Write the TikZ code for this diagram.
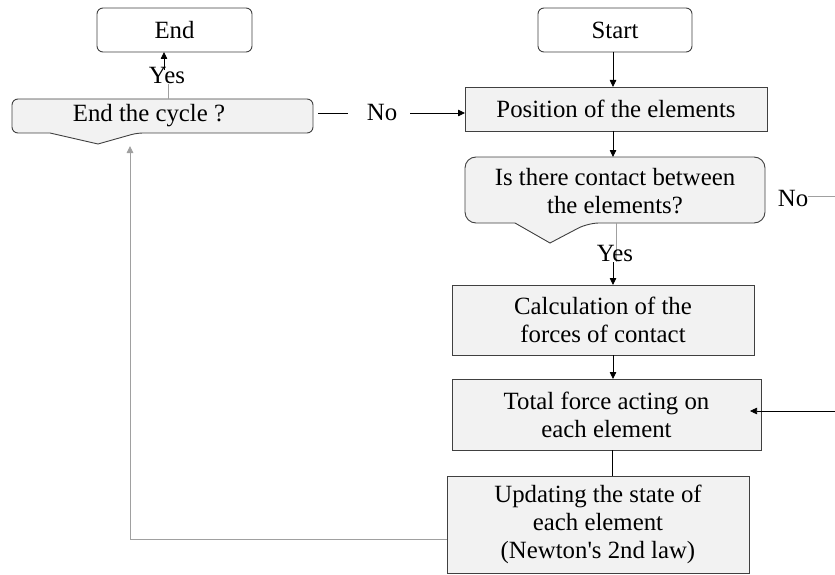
\documentclass[tikz,border=0pt]{standalone}
\usepackage{fontspec}
\setmainfont{Liberation Serif}
\usetikzlibrary{arrows.meta}
\definecolor{boxfill}{HTML}{F2F2F2}
\definecolor{boxline}{HTML}{404040}
\definecolor{thin}{HTML}{A0A0A0}
\tikzset{
  txt/.style={font=\fontsize{24.8}{28}\selectfont, align=center, inner sep=0pt},
  term/.style={txt, draw=boxline, line width=0.9pt, rounded corners=6pt, fill=white},
  proc/.style={txt, draw=boxline, line width=0.9pt, fill=boxfill},
  arr/.style={draw=black, line width=0.8pt, -{Triangle[length=7pt,width=6.5pt]}},
  garr/.style={draw=thin, line width=0.9pt, -{Triangle[length=7pt,width=6.5pt]}},
  gline/.style={draw=thin, line width=0.9pt},
  bline/.style={draw=black, line width=0.8pt},
  callout/.style={draw=boxline, line width=0.9pt, fill=boxfill},
  lbl/.style={font=\fontsize{24.8}{28}\selectfont, inner sep=0pt},
}
\begin{document}
\begin{tikzpicture}[x=1pt,y=-1pt]
\useasboundingbox (0,0) rectangle (835,575);

% terminals
\node[term, minimum width=155pt, minimum height=44pt] (end) at (174.5,30) {End};
\node[term, minimum width=154pt, minimum height=44pt] (start) at (615,30) {Start};

% process boxes
\node[proc, minimum width=302pt, minimum height=44pt] (pos) at (616,109) {Position of the elements};
\node[proc, minimum width=302pt, minimum height=70pt] (calc) at (603,320) {Calculation of the\\forces of contact};
\node[proc, minimum width=309pt, minimum height=71pt] (total) at (606.5,414.5) {Total force acting on\\each element};
\node[proc, minimum width=302pt, minimum height=97pt] (upd) at (598,524.5) {Updating the state of\\each element\\(Newton\textquotesingle s 2nd law)};

% decision callouts
\draw[callout, rounded corners=6pt] (12,133) -- (12,99) -- (313,99) -- (313,133) -- (137,133) [sharp corners] -- (98,144) -- (50,133) [rounded corners=6pt] -- cycle;
\coordinate (cyctip) at (130,146);
\node[txt] (cyc) at (149,116) {End the cycle ?};

\draw[callout, rounded corners=11pt] (465,223) -- (465,157) -- (765,157) -- (765,223) -- (588,223) [sharp corners] -- (550,243) -- (515,223) [rounded corners=11pt] -- cycle;
\node[txt] (dec) at (615,191) {Is there contact between\\the elements?};
\coordinate (decbot) at (616,223);
\coordinate (dectop) at (613,157);

% anchor points
\coordinate (s1) at (613,52);
\coordinate (p1) at (613,87);
\coordinate (p2) at (613,131);
\coordinate (y2) at (613,262);
\coordinate (c1) at (613,285);
\coordinate (c2) at (613,355);
\coordinate (t1) at (613,379);
\coordinate (t2) at (612,450);
\coordinate (u1) at (612,476);
\coordinate (uw) at (447,539);

% main flow
\draw[arr] (s1) -- (p1);
\draw[arr] (p2) -- (dectop);
\draw[gline] (decbot) -- (616,262);
\node[lbl] (yes2) at (615,254) {Yes};
\draw[arr] (y2) -- (c1);
\draw[arr] (c2) -- (t1);
\draw[bline] (t2) -- (u1);

% loop back
\draw[garr] (uw) -| (cyctip);

% end the cycle -> yes / no
\coordinate (cyctop) at (168,99);
\coordinate (e1) at (164,70);
\coordinate (e2) at (164,52);
\draw[gline] (cyctop) -- (168,84);
\node[lbl] (yes1) at (167,76) {Yes};
\draw[arr] (e1) -- (e2);
\node[lbl] (no1) at (382,113) {No};
\coordinate (n1) at (318,113);
\coordinate (n2) at (348,113);
\coordinate (n3) at (410,113);
\coordinate (pw) at (465,113);
\draw[bline] (n1) -- (n2);
\draw[arr] (n3) -- (pw);

% contact no
\node[lbl] (no2) at (793,199) {No};
\coordinate (r0) at (808,196);
\coordinate (rout) at (835,196);
\draw[gline] (r0) -- (rout);
\coordinate (rin) at (835,411);
\coordinate (tin) at (750,411);
\draw[arr, line width=0.6pt] (rin) -- (tin);
\end{tikzpicture}
\end{document}
